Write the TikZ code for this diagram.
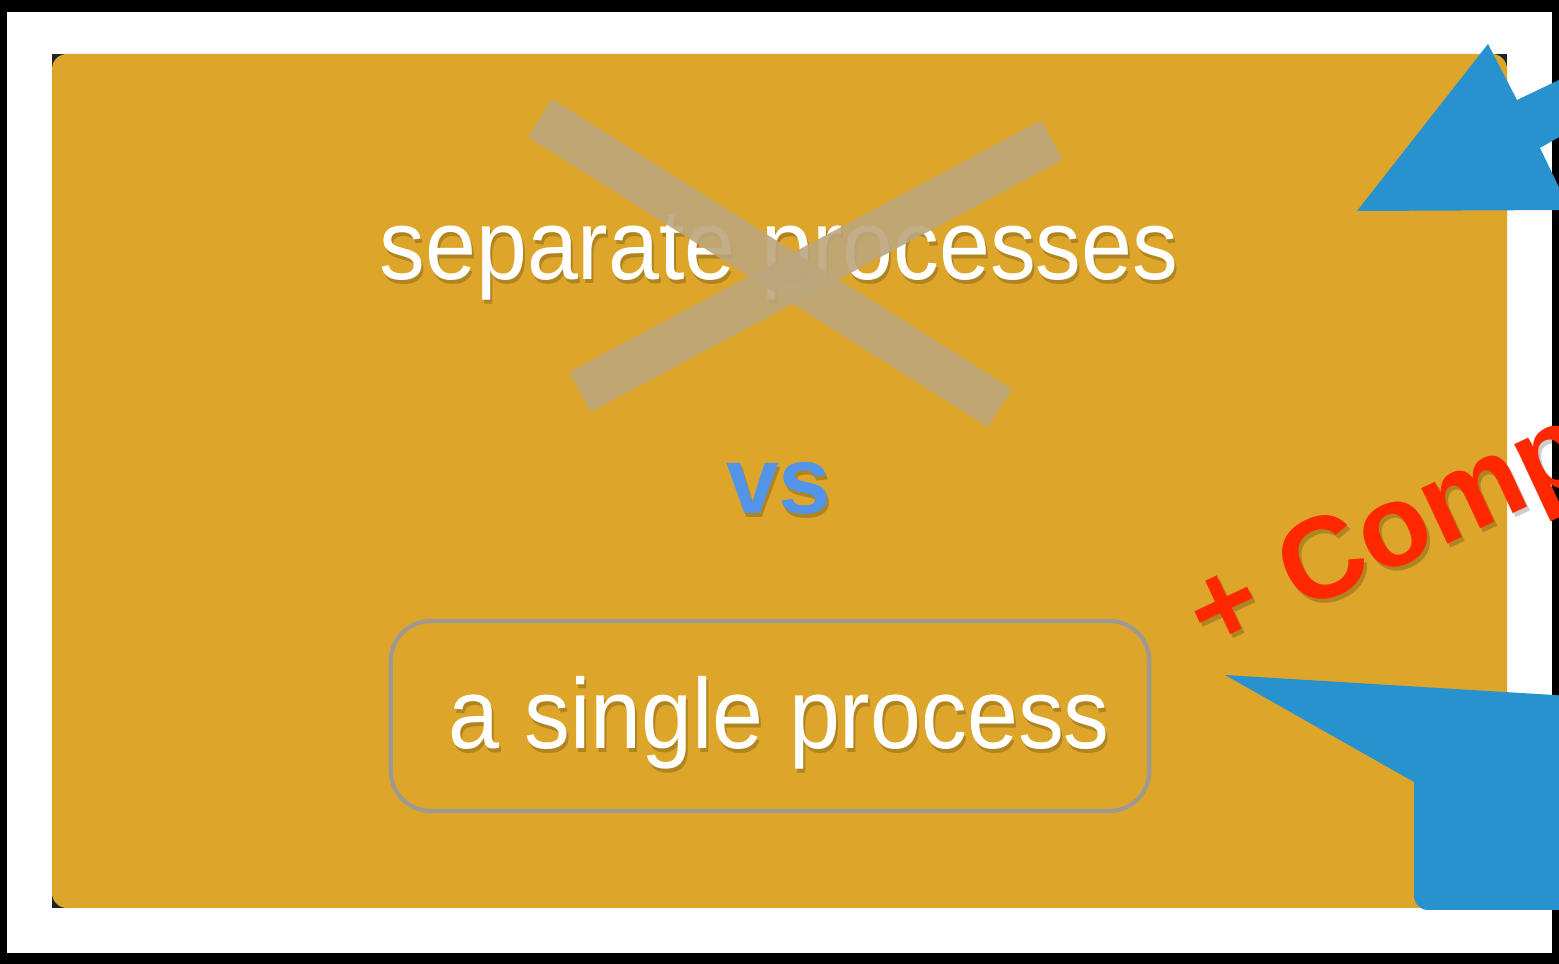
\documentclass[tikz,border=0pt]{standalone}
\usepackage{fontspec}
\setmainfont{Liberation Sans}
\newfontfamily\schmal[FakeStretch=0.92]{Liberation Sans}
\usetikzlibrary{positioning}
\definecolor{gold}{RGB}{221,166,42}
\definecolor{kreuz}{RGB}{188,166,124}
\definecolor{vsblau}{RGB}{82,148,232}
\definecolor{pfeilblau}{RGB}{40,146,206}
\definecolor{rot}{RGB}{255,40,0}
\definecolor{rahmen}{RGB}{158,153,146}
\definecolor{ecke}{RGB}{30,34,44}
\tikzset{
  gross/.style={text=white, font=\schmal\fontsize{28.3}{32}\selectfont, inner sep=0pt},
  schatten/.style={text=black, opacity=0.2},
  rottext/.style={font=\bfseries\fontsize{33}{38}\selectfont, rotate=25, anchor=base west, inner sep=0pt},
  strich/.style={kreuz, line width=0.45cm, opacity=0.9},
  pfeil/.style={fill=pfeilblau, draw=none},
}

\begin{document}
\begin{tikzpicture}[x=0.01cm, y=-0.01cm]
  \clip (0,0) rectangle (1559,964);
  \useasboundingbox (0,0) rectangle (1559,964);
  % frame
  \fill[black] (0,0) rectangle (1559,964);
  \fill[white] (7,12) rectangle (1552,953);
  \fill[ecke] (52,54) rectangle (1507,908);
  \fill[gold, rounded corners=0.15cm] (52,54) rectangle (1507,908);

  \node[gross, schatten] (sepS) at (781,262) {separate processes};
  \node[gross] (sep) at (779,258) {separate processes};
  \draw[strich] (540,118) -- (1000,408);
  \draw[strich] (1052,140) -- (580,392);

  \node[schatten, font=\bfseries\fontsize{27}{30}\selectfont, inner sep=0pt] (vsS) at (781,492) {vs};
  \node[text=vsblau, font=\bfseries\fontsize{27}{30}\selectfont, inner sep=0pt] (vs) at (779,488) {vs};

  \node[draw=rahmen, line width=1.2pt, rounded corners=0.4cm,
        minimum width=7.58cm, minimum height=1.9cm] (box) at (770,716) {};
  \node[gross, schatten] (einS) at (781,727) {a single process};
  \node[gross] (ein) at (779,723) {a single process};

  \node[rottext, schatten] (compS) at (1212,659) {+ Comp};
  \node[rottext, text=rot] (comp) at (1209,655) {+ Comp};

  % blue arrows
  \fill[pfeil] (1488,44) -- (1517,100) -- (1580,70) -- (1580,125) -- (1540,148)
    -- (1570,210) -- (1357,211) -- cycle;
  \fill[pfeil] (1225,675) -- (1570,696) -- (1570,910)
    [rounded corners=0.14cm] -- (1414,910) [sharp corners] -- (1414,782) -- cycle;
\end{tikzpicture}
\end{document}
